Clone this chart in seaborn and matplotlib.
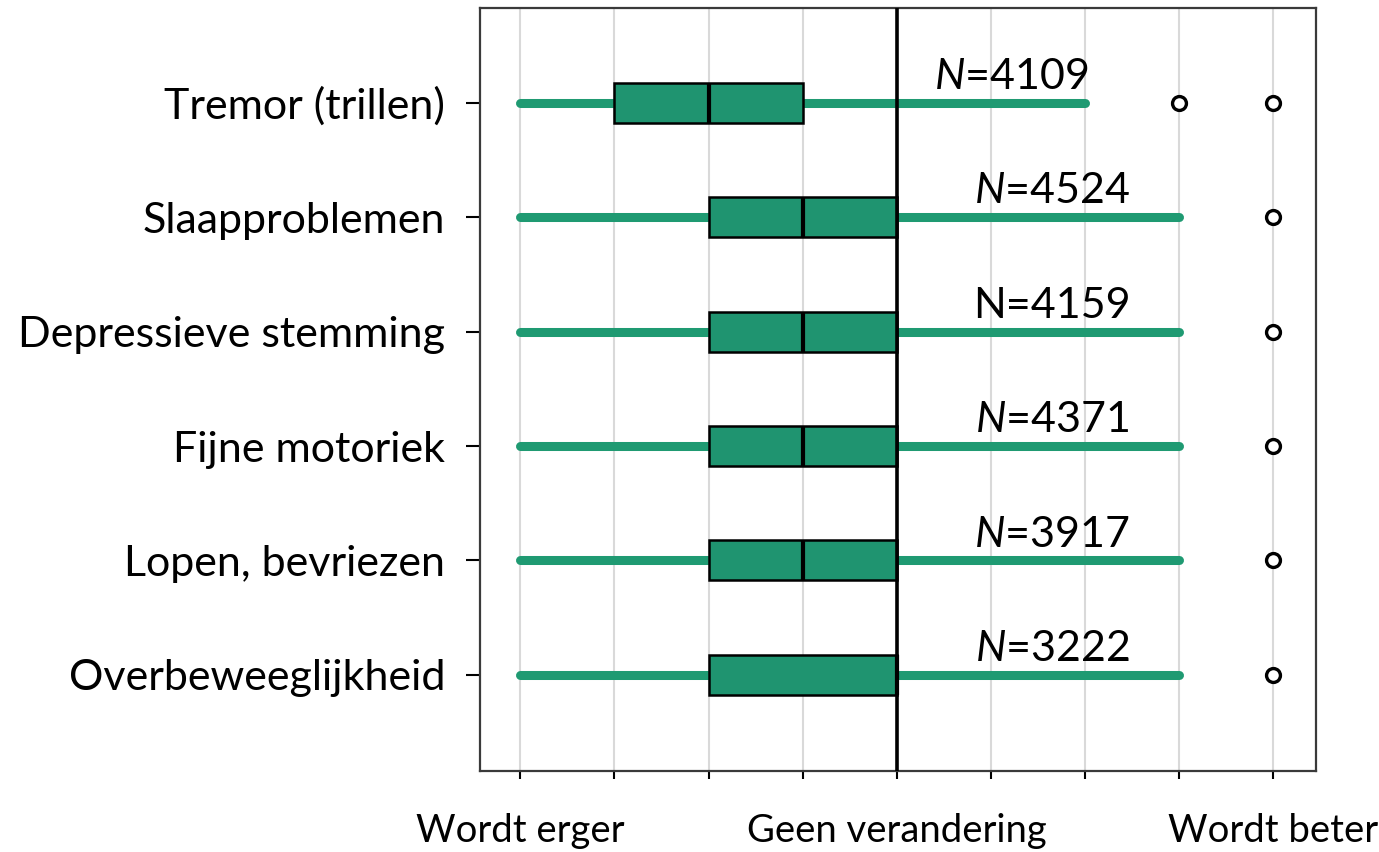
import matplotlib
matplotlib.use("Agg")
import matplotlib.pyplot as plt
import seaborn as sns
import pandas as pd

# Items (top to bottom) and the per-respondent change scores (-4 = worse, 0 = no change, 4 = better)
items = ["Tremor (trillen)", "Slaapproblemen", "Depressieve stemming",
         "Fijne motoriek", "Lopen, bevriezen", "Overbeweeglijkheid"]
tremor_scores = [-4, -3, -3, -3, -2, -2, -2, -1, -1, -1, 2, 3, 4]
sleep_scores = [-4, -2, -2, -2, -1, -1, -1, 0, 0, 0, 3, 3, 4]
mood_scores = [-4, -2, -2, -2, -1, -1, -1, 0, 0, 0, 3, 3, 4]
motor_scores = [-4, -2, -2, -2, -1, -1, -1, 0, 0, 0, 3, 3, 4]
walking_scores = [-4, -2, -2, -2, -1, -1, -1, 0, 0, 0, 3, 3, 4]
dyskinesia_scores = [-4, -2, -2, -2, -1, 0, 0, 0, 0, 0, 3, 3, 4]
n_counts = ["4109", "4524", "4159", "4371", "3917", "3222"]
n_italic = [True, True, False, True, True, True]
tick_values = [-4, -3, -2, -1, 0, 1, 2, 3, 4]
tick_labels = ["Wordt erger", "", "", "", "Geen verandering", "", "", "", "Wordt beter"]

# label placement (x centre of each N= label)
n_label_x = [1.22, 1.65, 1.65, 1.65, 1.65, 1.65]

all_scores = [tremor_scores, sleep_scores, mood_scores, motor_scores,
              walking_scores, dyskinesia_scores]
df = pd.DataFrame({
    "item": [it for it, s in zip(items, all_scores) for _ in s],
    "score": [v for s in all_scores for v in s],
})

sns.set_style("white")
plt.rcParams["font.family"] = ["Lato", "DejaVu Sans"]
plt.rcParams["mathtext.fontset"] = "custom"
plt.rcParams["mathtext.it"] = "Lato:italic"
plt.rcParams["mathtext.rm"] = "Lato"
plt.rcParams["text.color"] = "black"
plt.rcParams["xtick.color"] = "black"
plt.rcParams["ytick.color"] = "black"

green_box = "#1f9470"
green_line = "#1f9a72"

fig = plt.figure(figsize=(13.79, 8.52), dpi=100)
ax = fig.add_axes([0.348, 0.095, 0.606, 0.896])

sns.boxplot(data=df, x="score", y="item", order=items, orient="h", ax=ax,
            color=green_box, linecolor="black", width=0.35, whis=1.5,
            showcaps=False, saturation=1,
            boxprops=dict(facecolor=green_box, edgecolor="black", linewidth=1.8),
            medianprops=dict(color="black", linewidth=3),
            whiskerprops=dict(color=green_line, linewidth=6.5, solid_capstyle="round", zorder=1.5),
            flierprops=dict(marker="o", markerfacecolor="white", markeredgecolor="black",
                            markersize=10, markeredgewidth=2.4))

ax.axvline(0, color="black", linewidth=2.6, zorder=3)

for i, (n, it, lx) in enumerate(zip(n_counts, n_italic, n_label_x)):
    label = r"$\mathit{N}$=" + n if it else "N=" + n
    ax.text(lx, i - 0.12, label, ha="center", va="baseline", fontsize=31,
            color="black", zorder=4)

ax.set_xlim(-4.43, 4.45)
ax.set_ylim(5.84, -0.83)
ax.set_xticks(tick_values)
ax.set_xticklabels(tick_labels)
ax.set_xlabel("")
ax.set_ylabel("")
ax.grid(axis="x", color="#d9d9d9", linewidth=1.5)
ax.set_axisbelow(True)

ax.tick_params(axis="x", direction="out", length=6, width=1.5, pad=24,
               labelsize=27.5, labelcolor="black", bottom=True)
ax.tick_params(axis="y", direction="out", length=10, width=1.5, pad=15,
               labelsize=31, labelcolor="black", left=True)
for side in ["left", "right", "top", "bottom"]:
    ax.spines[side].set_visible(True)
    ax.spines[side].set_color("#3a3a3a")
    ax.spines[side].set_linewidth(1.6)

fig.savefig("out.png", dpi=100)
